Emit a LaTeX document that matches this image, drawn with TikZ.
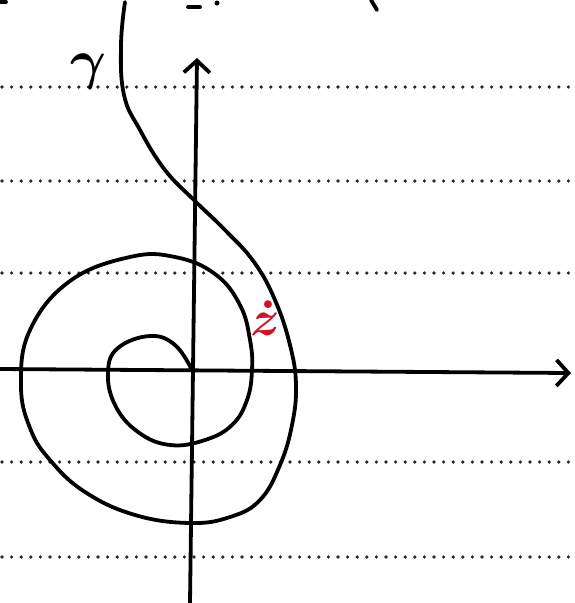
\documentclass[tikz,border=0pt]{standalone}
\usepackage{graphicx}
\usepackage{amsmath}
\usetikzlibrary{arrows.meta}
\begin{document}
\begin{tikzpicture}[x=1pt,y=-1pt,
  ink/.style={line width=3.8pt,black,line cap=round,line join=round},
  ruling/.style={line width=3.6pt,black!85,dash pattern=on 0pt off 9.6pt,line cap=round},
  axis/.style={ink,-{Straight Barb[length=12pt,width=26pt,line width=3.8pt]}},
  lbl/.style={inner sep=0pt}]
\useasboundingbox (0,0) rectangle (575,603);
\fill[white] (0,0) rectangle (575,603);
% ruled paper
\foreach \yy in {87,181,273,462,557}
  \draw[ruling] (2,\yy) -- (575,\yy);
% fragments of the previous line
\draw[ink] (188,7) -- (200,7);
\fill (217,3) circle (2.5pt);
\draw[ink] (371,0) -- (377,10);
\draw[ink] (0,2) -- (6,2);
% axes
\coordinate (ybot) at (190,603);
\coordinate (ytop) at (197,58);
\coordinate (xl) at (0,369);
\coordinate (xr) at (571,373);
\draw[axis] (ybot) -- (ytop);
\draw[axis] (xl) -- (xr);
% curve gamma
\draw[ink] plot[smooth,tension=0.7] coordinates {
 (125,2) (121,45) (124,95) (140,130) (165,170) (195,201) (225,230)
 (254,262) (275,300) (290,345) (296,385) (292,425) (280,465) (260,500)
 (230,517) (190,523) (135,515) (85,492) (50,460) (30,428) (21,385)
 (30,330) (70,281) (130,257) (175,257) (215,274) (240,305) (250,340)
 (252,370) (247,400) (232,425) (205,440) (170,445) (138,432) (115,405)
 (108,372) (118,348) (150,336) (175,345) (192,370)};
% labels
\node[lbl] (gamma) at (88,72) {\scalebox{5.5}{$\boldsymbol{\gamma}$}};
\node[lbl,text={rgb,255:red,210;green,20;blue,40}] (zdot) at (265,318) {\scalebox{5}{$\boldsymbol{\dot{z}}$}};
\end{tikzpicture}
\end{document}
